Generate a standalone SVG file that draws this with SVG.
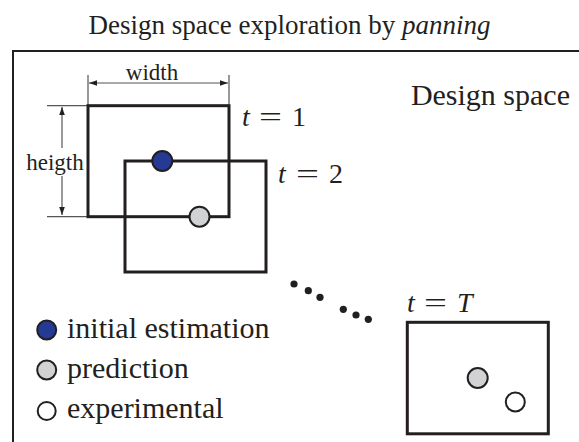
<svg xmlns="http://www.w3.org/2000/svg" width="579" height="442" viewBox="0 0 579 442">
<style>
text{font-family:'Liberation Serif','Tinos','Times New Roman',Times,'DejaVu Serif',serif;fill:#231f20}
.box{fill:none;stroke:#231f20;stroke-width:3}
.dim{stroke:#555;stroke-width:1.2;fill:none}
.pt{stroke:#231f20;stroke-width:2}
</style>
<defs>
<marker id="ah" viewBox="0 0 10 10" refX="10" refY="5" markerWidth="8" markerHeight="8" markerUnits="userSpaceOnUse" orient="auto-start-reverse">
<path d="M0,1.5 L10,5 L0,8.5 z" fill="#231f20"/>
</marker>
</defs>
<rect width="579" height="442" fill="#fff"/>
<text x="289.5" y="34" font-size="27" text-anchor="middle">Design space exploration by <tspan font-style="italic">panning</tspan></text>
<g id="frame"><path d="M13,442 V51 H579" fill="none" stroke="#231f20" stroke-width="2"/></g>
<text id="design-space" x="570" y="105" font-size="30" text-anchor="end">Design space</text>
<g id="dimensions">
<path class="dim" d="M88,75 V105 M229,75 V105 M47,105.7 H88 M47,216.7 H88"/>
<line class="dim" x1="89" y1="83" x2="228" y2="83" marker-start="url(#ah)" marker-end="url(#ah)"/>
<line class="dim" x1="62" y1="107" x2="62" y2="148" marker-start="url(#ah)"/>
<line class="dim" x1="62" y1="176" x2="62" y2="215" marker-end="url(#ah)"/>
<text x="152" y="80" font-size="23" text-anchor="middle">width</text>
<text x="55" y="170" font-size="23" text-anchor="middle">heigth</text>
</g>
<g id="frame-t1">
<rect class="box" x="88" y="105.7" width="141" height="111"/>
<text y="126" font-size="28"><tspan x="242" font-style="italic">t</tspan><tspan x="259" textLength="23" lengthAdjust="spacingAndGlyphs">=</tspan><tspan x="292">1</tspan></text>
</g>
<g id="frame-t2">
<rect class="box" x="125" y="161" width="141" height="111"/>
<text y="183" font-size="28"><tspan x="278" font-style="italic">t</tspan><tspan x="296" textLength="23" lengthAdjust="spacingAndGlyphs">=</tspan><tspan x="329">2</tspan></text>
</g>
<g id="points-t">
<circle class="pt" cx="162.3" cy="161" r="10" fill="#243a94"/>
<circle class="pt" cx="199.5" cy="216.7" r="10" fill="#d1d2d4"/>
</g>
<g id="ellipsis" fill="#231f20">
<circle cx="294" cy="284" r="3.6"/><circle cx="308.3" cy="290.7" r="3.6"/><circle cx="320" cy="297.3" r="3.6"/>
<circle cx="343.3" cy="309.3" r="3.6"/><circle cx="356" cy="315" r="3.6"/><circle cx="368.3" cy="319.3" r="3.6"/>
</g>
<g id="frame-tT">
<rect class="box" x="407.3" y="322.3" width="141" height="111.5"/>
<text y="312" font-size="28"><tspan x="407" font-style="italic">t</tspan><tspan x="424" textLength="23" lengthAdjust="spacingAndGlyphs">=</tspan><tspan x="457" font-style="italic">T</tspan></text>
<circle class="pt" cx="477.7" cy="378" r="10" fill="#d1d2d4"/>
<circle class="pt" cx="515.3" cy="402" r="9.5" fill="#fff"/>
</g>
<g id="legend">
<circle class="pt" cx="46.7" cy="330" r="9.5" fill="#243a94"/>
<text x="67" y="338" font-size="30">initial estimation</text>
<circle class="pt" cx="46.7" cy="370" r="9.5" fill="#d1d2d4"/>
<text x="67" y="378" font-size="30">prediction</text>
<circle class="pt" cx="46.7" cy="411" r="9" fill="#fff"/>
<text x="67" y="418" font-size="30">experimental</text>
</g>
</svg>
